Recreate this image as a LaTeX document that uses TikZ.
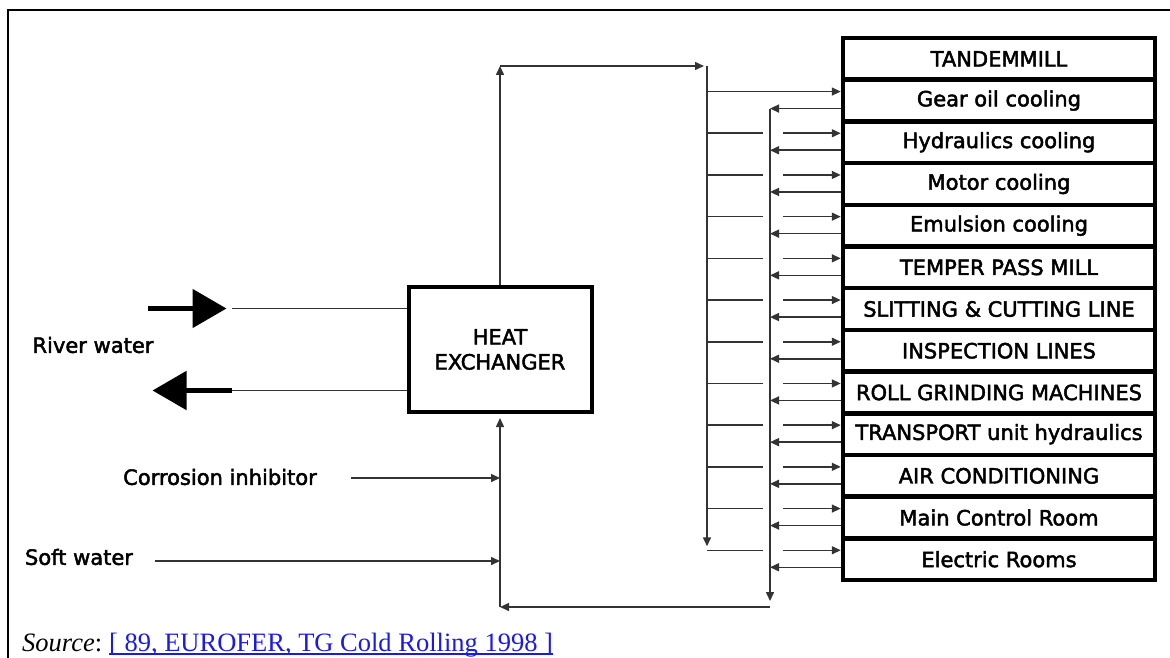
\documentclass[tikz,border=0pt]{standalone}
\usepackage{fontspec}
\setmainfont{Liberation Serif}
\setsansfont{DejaVu Sans}
\newfontfamily\diagfont{DejaVu Sans}[FakeBold=2.2]
\usepackage{xcolor}
\definecolor{pipeline}{HTML}{333333}
\definecolor{linkblue}{HTML}{1A1AE6}
\usepackage{tikz}
\usetikzlibrary{arrows.meta, positioning, calc}

\begin{document}
\begin{tikzpicture}[
  x=1pt, y=-1pt,
  font=\diagfont\fontsize{21}{25}\selectfont,
  >={Triangle[length=9pt,width=8pt]},
  unit/.style={
    draw, fill=white, line width=4.5pt, inner sep=0pt,
    minimum width=312pt, minimum height=41.7pt
  },
  pipe/.style={draw=pipeline, line width=1.5pt},
  bigarrow/.style={line width=5pt, -{Triangle[length=34pt,width=38pt]}},
  label/.style={inner sep=0pt, anchor=center},
  srcfont/.style={inner sep=0pt, anchor=base west,
    font=\rmfamily\fontsize{26.5}{29}\selectfont}
]
  \useasboundingbox (0,0) rectangle (1170,658);
  \draw[line width=2.5pt] (8,658) -- (8,10) -- (1170,10);

  % consumers
  \foreach \lbl [count=\k from 0] in {TANDEMMILL, Gear oil cooling,
      Hydraulics cooling, Motor cooling, Emulsion cooling,
      TEMPER PASS MILL, SLITTING \& CUTTING LINE, INSPECTION LINES,
      ROLL GRINDING MACHINES, TRANSPORT unit hydraulics,
      AIR CONDITIONING, Main Control Room, Electric Rooms} {
    \node[unit] (u\k) at (999,{58.85+41.7*\k}) {\lbl};
  }

  \node[draw, line width=4pt, minimum width=183pt, minimum height=125pt,
        align=center] (hx) at (500,349.5) {HEAT\\EXCHANGER};

  \node[label] (rw) at (93,345) {River water};
  \node[label] (ci) at (220,477) {Corrosion inhibitor};
  \node[label] (sw) at (79,557) {Soft water};

  \coordinate (supR) at (707,66);
  \coordinate (retR) at (770,109);
  \coordinate (retB) at (770,607);

  % supply and return branches
  \foreach \k in {1,...,12} {
    \coordinate (s\k) at ($(u\k.west)+(0,-9)$);
    \coordinate (r\k) at ($(u\k.west)+(0,8)$);
    \ifnum\k=1
      \draw[pipe,->] (s\k -| supR) -- (s\k);
    \else
      \draw[pipe] (s\k -| supR) -- ++(56,0);
      \draw[pipe,->] ($(s\k -| retR)+(13,0)$) -- (s\k);
    \fi
    \draw[pipe,->] (r\k) -- (r\k -| retR);
  }

  % supply main
  \draw[pipe,->] (hx.north) -- (hx.north |- supR);
  \draw[pipe,->] (hx.north |- supR) -- ($(supR)+(-3,0)$);
  \draw[pipe,->] (supR) -- ($(s12 -| supR)+(0,-4)$);

  % return main
  \draw[pipe,->] (retR) -- ($(retB)+(0,-6)$);
  \draw[pipe,->] (retB) -- (retB -| hx.south);
  \draw[pipe,->] (retB -| hx.south) -- ($(hx.south)+(0,4)$);

  % make-up
  \coordinate (cia) at ($(ci.east)+(34,1)$);
  \coordinate (swa) at ($(sw.east)+(22,4)$);
  \draw[pipe,->] (cia) -- (cia -| hx.south);
  \draw[pipe,->] (swa) -- (swa -| hx.south);

  % river water
  \coordinate (rin) at ($(hx.west)+(0,-41)$);
  \coordinate (rout) at ($(hx.west)+(0,41)$);
  \draw[pipe] (rin) -- ($(rin)+(-175,0)$);
  \draw[bigarrow] ($(rin)+(-259,0)$) -- ($(rin)+(-180,0)$);
  \draw[pipe] (rout) -- ($(rout)+(-175,0)$);
  \draw[bigarrow] ($(rout)+(-175,0)$) -- ($(rout)+(-254,0)$);

  % source line
  \node[srcfont] (src) at (22,651) {\textit{Source}:};
  \node[srcfont, text=linkblue] (lnk) at ($(src.base east)+(6.5,0)$)
    {[ 89, EUROFER, TG Cold Rolling 1998 ]};
  \draw[linkblue, line width=1.2pt]
    ($(lnk.base west)+(0,3)$) -- ($(lnk.base east)+(0,3)$);
\end{tikzpicture}
\end{document}
